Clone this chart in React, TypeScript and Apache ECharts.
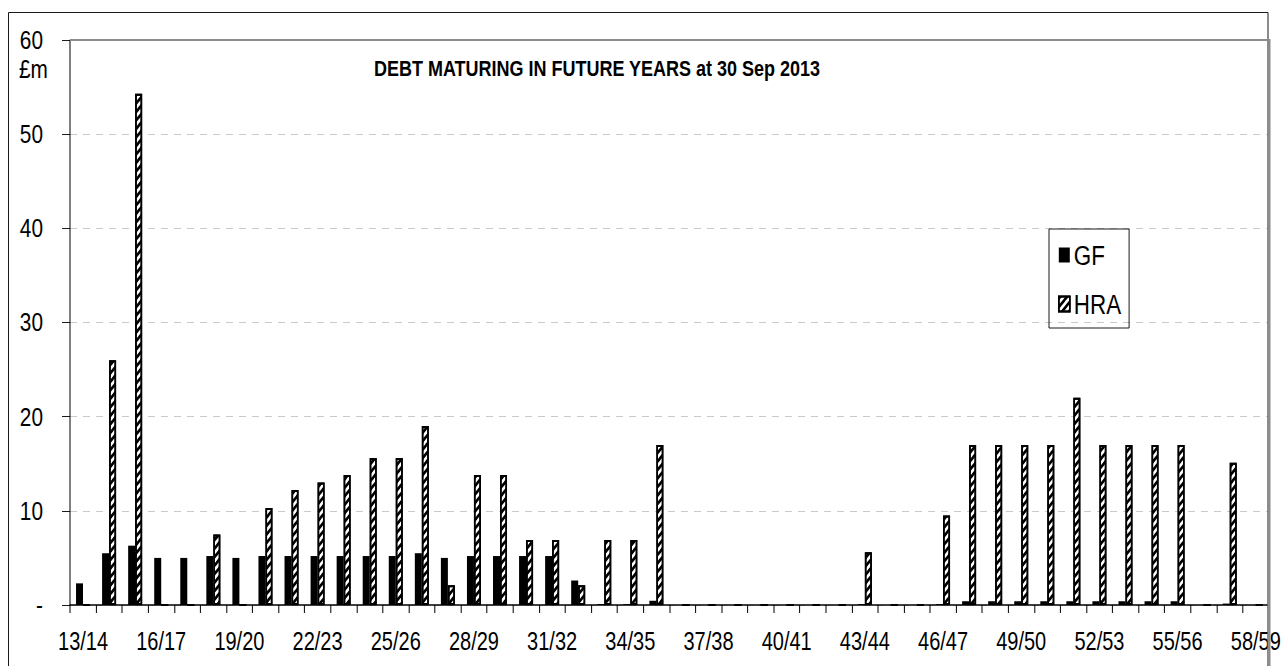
import React, { useEffect, useRef } from "react";
import * as echarts from "echarts";

// Financial years 13/14 .. 58/59
const years: string[] = [
  "13/14", "14/15", "15/16", "16/17", "17/18", "18/19", "19/20", "20/21", "21/22", "22/23",
  "23/24", "24/25", "25/26", "26/27", "27/28", "28/29", "29/30", "30/31", "31/32", "32/33",
  "33/34", "34/35", "35/36", "36/37", "37/38", "38/39", "39/40", "40/41", "41/42", "42/43",
  "43/44", "44/45", "45/46", "46/47", "47/48", "48/49", "49/50", "50/51", "51/52", "52/53",
  "53/54", "54/55", "55/56", "56/57", "57/58", "58/59",
];

// General Fund debt maturing (£m)
const gfValues: number[] = [
  2.3, 5.5, 6.3, 5.0, 5.0, 5.2, 5.0, 5.2, 5.2, 5.2,
  5.2, 5.2, 5.2, 5.5, 5.0, 5.2, 5.2, 5.2, 5.2, 2.6,
  0.1, 0.1, 0.45, 0, 0, 0, 0, 0, 0, 0,
  0.1, 0, 0, 0.1, 0.4, 0.4, 0.4, 0.4, 0.4, 0.4,
  0.4, 0.4, 0.4, 0, 0.15, 0,
];

// Housing Revenue Account debt maturing (£m)
const hraValues: number[] = [
  0, 26.0, 54.3, 0, 0, 7.5, 0, 10.3, 12.2, 13.0,
  13.8, 15.6, 15.6, 19.0, 2.1, 13.8, 13.8, 6.9, 6.9, 2.1,
  6.9, 6.9, 17.0, 0, 0, 0, 0, 0, 0, 0,
  5.6, 0, 0, 9.5, 17.0, 17.0, 17.0, 17.0, 22.0, 17.0,
  17.0, 17.0, 17.0, 0, 15.1, 0,
];

const titleText = "DEBT MATURING IN FUTURE YEARS at 30 Sep 2013";
const unitText = "£m";

const FONT = "'Liberation Sans Narrow', 'Arial Narrow', 'Liberation Sans', Arial, sans-serif";

// The chart is laid out on a wider canvas and squeezed horizontally so that
// all lettering gets a narrow, condensed look.
const SQUEEZE = 0.8;
const W = 1283;
const H = 666;
const X = (px: number) => px / SQUEEZE;

export default function App() {
  const ref = useRef<HTMLDivElement>(null);

  useEffect(() => {
    if (!ref.current) return;
    const chart = echarts.init(ref.current, undefined, { renderer: "svg" });

    const hatch = {
      symbol: "rect",
      symbolSize: 1,
      color: "#000",
      backgroundColor: "#fff",
      dashArrayX: [1, 0],
      dashArrayY: [2.6, 2.2],
      rotation: -Math.PI / 4,
    };

    chart.setOption({
      animation: false,
      backgroundColor: "#fff",
      textStyle: { fontFamily: FONT },
      grid: { left: X(70), top: 40, right: X(14), bottom: 61, containLabel: false },
      legend: {
        orient: "vertical",
        left: X(1049),
        top: 229,
        icon: "rect",
        itemWidth: X(11),
        itemHeight: 15,
        itemGap: 21,
        padding: [12, X(8), 10, X(9)],
        borderColor: "#000",
        borderWidth: 1,
        textStyle: { fontFamily: FONT, fontSize: 28, color: "#000", lineHeight: 28 },
        data: ["GF", "HRA"],
      },
      xAxis: {
        type: "category",
        data: years,
        axisLine: { lineStyle: { color: "#000", width: 1.5 } },
        axisTick: { show: true, interval: 0, length: 8, lineStyle: { color: "#000", width: X(1) } },
        axisLabel: {
          interval: 2,
          margin: 24,
          fontSize: 25,
          color: "#000",
          fontFamily: FONT,
        },
        splitLine: { show: false },
      },
      yAxis: {
        type: "value",
        min: 0,
        max: 60,
        interval: 10,
        axisLine: { show: true, lineStyle: { color: "#000", width: X(1) } },
        axisTick: { show: true, length: X(8), lineStyle: { color: "#000" } },
        axisLabel: {
          margin: X(27),
          fontSize: 26,
          color: "#000",
          fontFamily: FONT,
          formatter: (v: number) => (v === 0 ? "-" : String(v)),
        },
        splitLine: {
          show: true,
          lineStyle: { color: "#c4c4c4", type: [X(7), X(6)], width: 1 },
        },
      },
      graphic: [
        {
          type: "rect",
          silent: true,
          shape: { x: X(8.5), y: 12.5, width: X(1259.5), height: 700 },
          style: { fill: "none", stroke: "#000", lineWidth: 1 },
          z: 100,
        },
        {
          type: "line",
          silent: true,
          shape: { x1: X(70), y1: 40, x2: X(1269), y2: 40 },
          style: { stroke: "#8c8c8c", lineWidth: 2 },
          z: 100,
        },
        {
          type: "line",
          silent: true,
          shape: { x1: X(1269), y1: 39, x2: X(1269), y2: 700 },
          style: { stroke: "#8c8c8c", lineWidth: X(3) },
          z: 100,
        },
        {
          type: "text",
          silent: true,
          x: X(597),
          y: 68,
          style: {
            text: titleText,
            fontFamily: FONT,
            fontSize: 22.5,
            fontWeight: "bold",
            fill: "#000",
            textAlign: "center",
            textVerticalAlign: "middle",
          },
        },
        {
          type: "text",
          silent: true,
          x: X(19),
          y: 69,
          style: {
            text: unitText,
            fontFamily: FONT,
            fontSize: 26,
            fill: "#000",
            textAlign: "left",
            textVerticalAlign: "middle",
          },
        },
      ],
      series: [
        {
          name: "GF",
          type: "bar",
          data: gfValues,
          barWidth: X(7),
          barGap: "0%",
          itemStyle: { color: "#000" },
        },
        {
          name: "HRA",
          type: "bar",
          data: hraValues,
          barWidth: X(7),
          barGap: "0%",
          itemStyle: {
            color: "#fff",
            borderColor: "#000",
            borderWidth: 2,
            decal: hatch,
          },
        },
      ],
    });

    return () => chart.dispose();
  }, []);

  return (
    <div
      style={{ position: "fixed", left: 0, top: 0, width: W, height: H, overflow: "hidden", background: "#fff" }}
    >
      <div
        ref={ref}
        style={{
          width: X(W),
          height: H,
          transform: `scaleX(${SQUEEZE})`,
          transformOrigin: "0 0",
        }}
      />
    </div>
  );
}
